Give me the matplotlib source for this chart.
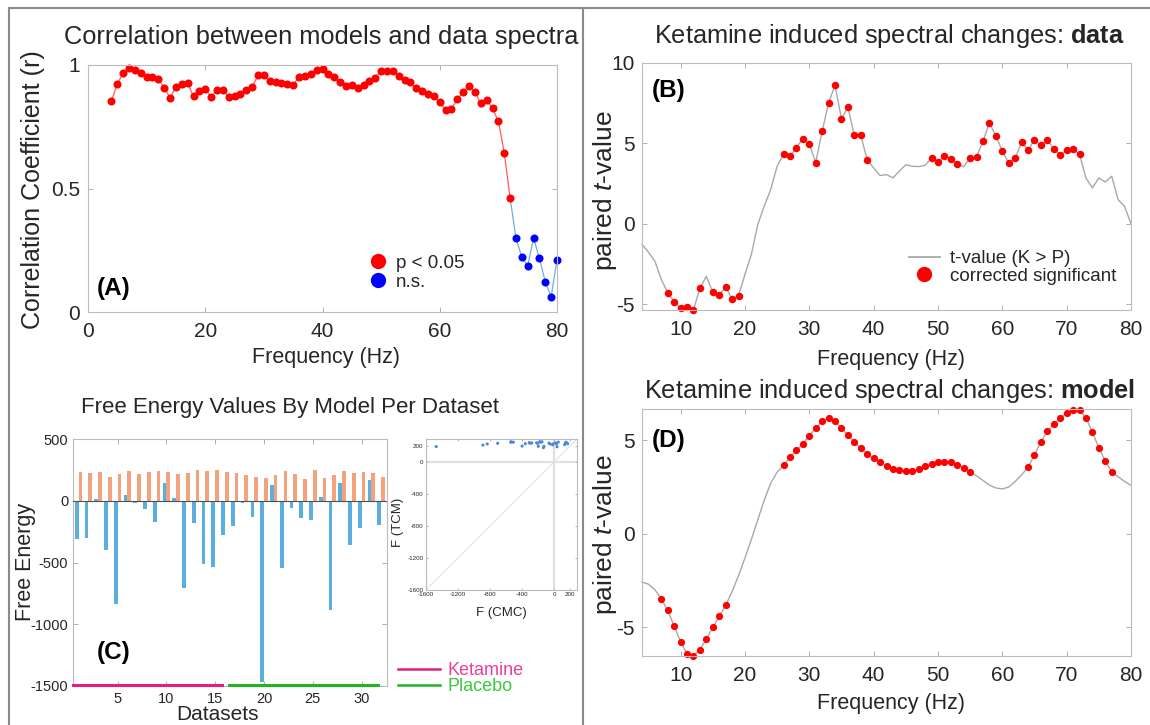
import matplotlib
matplotlib.use('Agg')
import matplotlib.pyplot as plt
from matplotlib.lines import Line2D
import numpy as np

plt.rcParams['font.family'] = ['Liberation Sans', 'DejaVu Sans']
plt.rcParams['mathtext.fontset'] = 'custom'
plt.rcParams['mathtext.rm'] = 'Liberation Sans'
plt.rcParams['mathtext.it'] = 'Liberation Sans:italic'
plt.rcParams['mathtext.bf'] = 'Liberation Sans:bold'
plt.rcParams['axes.unicode_minus'] = False

# ---------------- data ----------------
# (A) correlation between model and data spectra
freq_a = list(range(4, 81))
corr_a = [0.854, 0.924, 0.966, 0.989, 0.981, 0.966, 0.953, 0.950, 0.945, 0.908,
          0.868, 0.909, 0.923, 0.926, 0.873, 0.893, 0.901, 0.872, 0.897, 0.900,
          0.870, 0.874, 0.882, 0.899, 0.911, 0.958, 0.959, 0.935, 0.932, 0.927,
          0.922, 0.919, 0.953, 0.955, 0.964, 0.978, 0.984, 0.962, 0.951, 0.930,
          0.914, 0.918, 0.908, 0.918, 0.935, 0.949, 0.977, 0.976, 0.974, 0.957,
          0.938, 0.932, 0.907, 0.896, 0.882, 0.873, 0.849, 0.818, 0.823, 0.861,
          0.892, 0.914, 0.891, 0.845, 0.859, 0.824, 0.773, 0.645, 0.462,
          0.299, 0.222, 0.186, 0.299, 0.218, 0.122, 0.061, 0.212]
last_sig_hz_a = 72

# (B) data t-values
freq_b = list(range(4, 81))
tval_b = [-1.28, -1.76, -2.32, -3.46, -4.29, -4.84, -5.24, -5.16, -5.36, -4.00,
          -3.27, -4.27, -4.45, -3.91, -4.70, -4.47, -3.15, -1.90, -0.04, 1.10,
          2.13, 3.58, 4.33, 4.20, 4.74, 5.30, 4.95, 3.81, 5.76, 7.52,
          8.61, 6.54, 7.25, 5.51, 5.51, 3.98, 3.48, 3.00, 3.06, 2.86,
          3.27, 3.67, 3.58, 3.56, 3.63, 4.10, 3.85, 4.21, 4.06, 3.73,
          3.54, 4.10, 4.17, 5.13, 6.29, 5.44, 4.54, 3.77, 4.08, 5.08,
          4.58, 5.23, 4.88, 5.21, 4.67, 4.25, 4.56, 4.67, 4.31, 2.85,
          2.23, 2.85, 2.60, 2.96, 1.50, 1.08, 0.00]
sig_bands_b = [(8, 13), (15, 19), (26, 39), (49, 53), (55, 72)]

# (D) model t-values
freq_d = list(range(4, 81))
tval_d = [-2.59, -2.70, -3.00, -3.48, -4.11, -4.95, -5.79, -6.43, -6.54, -6.21,
          -5.63, -5.02, -4.43, -3.84, -3.10, -2.25, -1.30, -0.30, 0.75, 1.80,
          2.70, 3.30, 3.66, 4.09, 4.46, 4.82, 5.25, 5.64, 6.02, 6.18,
          6.02, 5.66, 5.27, 4.93, 4.57, 4.29, 4.04, 3.82, 3.63, 3.48,
          3.39, 3.36, 3.38, 3.45, 3.61, 3.71, 3.82, 3.86, 3.84, 3.70,
          3.54, 3.32, 3.10, 2.85, 2.60, 2.45, 2.40, 2.50, 2.80, 3.15,
          3.57, 4.23, 4.93, 5.48, 5.88, 6.18, 6.45, 6.64, 6.64, 6.20,
          5.43, 4.61, 3.89, 3.32, 3.05, 2.80, 2.59]
sig_bands_d = [(7, 17), (26, 55), (64, 77)]

# (C) free energy per dataset
datasets = list(range(1, 33))
f_cmc = [-311, -298, 15, -400, -834, 50, -18, -65, -168, 143, 27, -704, -181, -509, -536, -279,
         -206, -20, -127, -1469, 130, -541, -54, -135, -152, 35, -888, 149, -360, -219, 168, -198]
f_tcm = [238, 230, 235, 195, 222, 244, 222, 233, 244, 238, 222, 230, 249, 244, 249, 235,
         230, 211, 192, 189, 214, 244, 222, 176, 249, 187, 208, 244, 225, 235, 225, 192]
groups = ['Ketamine'] * 16 + ['Placebo'] * 16
group_colors = {'Ketamine': '#e0207a', 'Placebo': '#22b522'}
group_text_colors = {'Ketamine': '#e8409a', 'Placebo': '#3cc83c'}

# ---------------- layout helpers ----------------
W, H = 1150, 725
fig = plt.figure(figsize=(W / 100, H / 100), dpi=100)
fig.patch.set_facecolor('white')


def fx(px):
    return px / W


def fy(py):
    return 1 - py / H


def box(l, t, r, b):
    return [l / W, 1 - b / H, (r - l) / W, (b - t) / H]


TXT = '#262626'


def style(ax, fs, xpad, ypad):
    for s in ax.spines.values():
        s.set_color('#bcbcbc')
        s.set_linewidth(0.8)
    ax.tick_params(direction='in', top=True, right=True, length=3.5, width=0.7,
                   color='#b0b0b0', labelcolor=TXT, labelsize=fs)
    ax.tick_params(axis='x', pad=xpad)
    ax.tick_params(axis='y', pad=ypad)


def ftext(x, y, s, **kw):
    kw.setdefault('color', TXT)
    fig.text(fx(x), fy(y), s, ha='center', va='center', **kw)


def in_bands(freqs, bands):
    f = np.asarray(freqs)
    m = np.zeros(len(f), dtype=bool)
    for lo, hi in bands:
        m |= (f >= lo) & (f <= hi)
    return m


# ---------------- frame lines ----------------
for xs, ys in [([9, 9], [8, 725]), ([9, 1150], [8, 8]), ([583, 583], [8, 725])]:
    fig.add_artist(Line2D([fx(v) for v in xs], [fy(v) for v in ys],
                          transform=fig.transFigure, color='#8a8a8a', lw=1.5))

# ---------------- panel A ----------------
axA = fig.add_axes(box(88, 65, 557, 312))
fa = np.array(freq_a)
ca = np.array(corr_a)
sig = fa <= last_sig_hz_a
last = np.where(sig)[0][-1]
axA.plot(fa[last:], ca[last:], '-', color='#6aaee8', lw=0.9, clip_on=False)
axA.plot(fa[sig], ca[sig], '-', color='#ff5a5a', lw=0.9, clip_on=False)
axA.plot(fa[sig], ca[sig], 'o', color='#ff0000', ms=5.8, mec='none', clip_on=False)
axA.plot(fa[~sig], ca[~sig], 'o', color='#0000ff', ms=5.8, mec='none', clip_on=False)
axA.set_xlim(0, 80)
axA.set_ylim(0, 1)
axA.set_xticks([0, 20, 40, 60, 80])
axA.set_yticks([0, 0.5, 1])
axA.set_yticklabels(['0', '0.5', '1'])
style(axA, 15, 7, 5.8)
hA = [Line2D([], [], ls='none', marker='o', color='#ff0000', ms=11, mec='none'),
      Line2D([], [], ls='none', marker='o', color='#0000ff', ms=11, mec='none')]
legA = axA.legend(hA, ['p < 0.05', 'n.s.'], loc='center left',
                  bbox_to_anchor=(fx(369), fy(272.5)), bbox_transform=fig.transFigure,
                  frameon=False, fontsize=13.5, handlelength=1.0, handletextpad=0.45,
                  labelspacing=0.1, borderpad=0, borderaxespad=0)
for t in legA.get_texts():
    t.set_color(TXT)
ftext(321, 37, 'Correlation between models and data spectra', fontsize=18.3)
ftext(33, 190, 'Correlation Coefficient (r)', fontsize=18, rotation=90)
ftext(326, 358, 'Frequency (Hz)', fontsize=15.5)
ftext(114, 289, '(A)', fontsize=17.5, fontweight='bold', color='black')

# ---------------- panel B ----------------
axB = fig.add_axes(box(642, 63, 1131, 310))
fb = np.array(freq_b)
tb = np.array(tval_b)
mb = in_bands(fb, sig_bands_b)
axB.plot(fb, tb, '-', color='#a8a8a8', lw=1.0, clip_on=False)
axB.plot(fb[mb], tb[mb], 'o', color='#ff0000', ms=5.4, mec='none', clip_on=False)
axB.set_xlim(4, 80)
axB.set_ylim(-5.36, 10)
axB.set_xticks([10, 20, 30, 40, 50, 60, 70, 80])
axB.set_yticks([-5, 0, 5, 10])
style(axB, 15, 7.4, 5.4)
hB = [Line2D([], [], color='#a8a8a8', lw=1.3),
      Line2D([], [], ls='none', marker='o', color='#ff0000', ms=11, mec='none')]
legB = axB.legend(hB, ['t-value (K > P)', 'corrected significant'], loc='center left',
                  bbox_to_anchor=(fx(909), fy(267.5)), bbox_transform=fig.transFigure,
                  frameon=False, fontsize=13.5, handlelength=1.65, handletextpad=0.53,
                  labelspacing=0.02, borderpad=0, borderaxespad=0)
for t in legB.get_texts():
    t.set_color(TXT)
ftext(889, 36, r'Ketamine induced spectral changes: $\mathbf{data}$', fontsize=18.3)
ftext(605, 191, r'paired $\mathit{t}$-value', fontsize=19, rotation=90)
ftext(891, 359, 'Frequency (Hz)', fontsize=15.5)
ftext(669, 90, '(B)', fontsize=17.5, fontweight='bold', color='black')

# ---------------- panel D ----------------
axD = fig.add_axes(box(642, 409, 1131, 656))
fd = np.array(freq_d)
td = np.array(tval_d)
md = in_bands(fd, sig_bands_d)
axD.plot(fd, td, '-', color='#a8a8a8', lw=1.0, clip_on=False)
axD.plot(fd[md], td[md], 'o', color='#ff0000', ms=5.2, mec='none', clip_on=False)
axD.set_xlim(4, 80)
axD.set_ylim(-6.55, 6.68)
axD.set_xticks([10, 20, 30, 40, 50, 60, 70, 80])
axD.set_yticks([-5, 0, 5])
style(axD, 15, 7.4, 5.4)
ftext(890, 391, r'Ketamine induced spectral changes: $\mathbf{model}$', fontsize=18.3)
ftext(605, 535, r'paired $\mathit{t}$-value', fontsize=19, rotation=90)
ftext(891, 703, 'Frequency (Hz)', fontsize=15.5)
ftext(669, 441, '(D)', fontsize=17.5, fontweight='bold', color='black')

# ---------------- panel C ----------------
axC = fig.add_axes(box(72.7, 439.3, 387, 685.7))
ds = np.array(datasets)
axC.bar(ds - 0.19, f_cmc, width=0.38, color='#5aaee0', zorder=2)
axC.bar(ds + 0.19, f_tcm, width=0.38, color='#f2a37e', zorder=2)
axC.axhline(0, color='#505050', lw=0.8, zorder=3)
axC.set_xlim(0.4, 32.6)
axC.set_ylim(-1500, 500)
axC.set_xticks([5, 10, 15, 20, 25, 30])
axC.set_yticks([-1500, -1000, -500, 0, 500])
style(axC, 10.5, 4.5, 3.2)
garr = np.array(groups)
for g in ['Ketamine', 'Placebo']:
    gx = ds[garr == g]
    axC.plot([gx.min() - 0.6, gx.max() - 0.3], [-1493, -1493], color=group_colors[g],
             lw=2.2, clip_on=False, zorder=4)
ftext(290, 407, 'Free Energy Values By Model Per Dataset', fontsize=16)
ftext(25, 562, 'Free Energy', fontsize=15.5, rotation=90)
ftext(217, 714, 'Datasets', fontsize=15)
ftext(114, 653, '(C)', fontsize=17.5, fontweight='bold', color='black')

hC = [Line2D([], [], color=group_colors[g], lw=1.8) for g in ['Ketamine', 'Placebo']]
legC = axC.legend(hC, ['Ketamine', 'Placebo'], loc='center left',
                  bbox_to_anchor=(fx(398), fy(678.5)), bbox_transform=fig.transFigure,
                  frameon=False, fontsize=13, handlelength=2.33, handletextpad=0.39,
                  labelspacing=-0.05, borderpad=0, borderaxespad=0)
for t, g in zip(legC.get_texts(), ['Ketamine', 'Placebo']):
    t.set_color(group_text_colors[g])

# inset scatter
axI = fig.add_axes(box(425.7, 439.3, 576.7, 590))
axI.axline((0, 0), slope=1, color='#e2e2e2', lw=0.8, zorder=1)
axI.axhline(0, color='#e0e0e0', lw=1.6, zorder=1)
axI.axvline(0, color='#e0e0e0', lw=1.6, zorder=1)
axI.scatter(f_cmc, f_tcm, s=5, color='#4a86db', edgecolors='none', zorder=3)
axI.set_xlim(-1600, 280)
axI.set_ylim(-1600, 280)
axI.set_xticks([-1600, -1200, -800, -400, 0, 200])
axI.set_yticks([-1600, -1200, -800, -400, 0, 200])
style(axI, 4.5, 1.5, 1.5)
axI.tick_params(length=1.5)
ftext(501, 613, 'F (CMC)', fontsize=9.5)
ftext(398, 522, 'F (TCM)', fontsize=9.5, rotation=90)

fig.savefig('out.png', dpi=100, facecolor='white')
